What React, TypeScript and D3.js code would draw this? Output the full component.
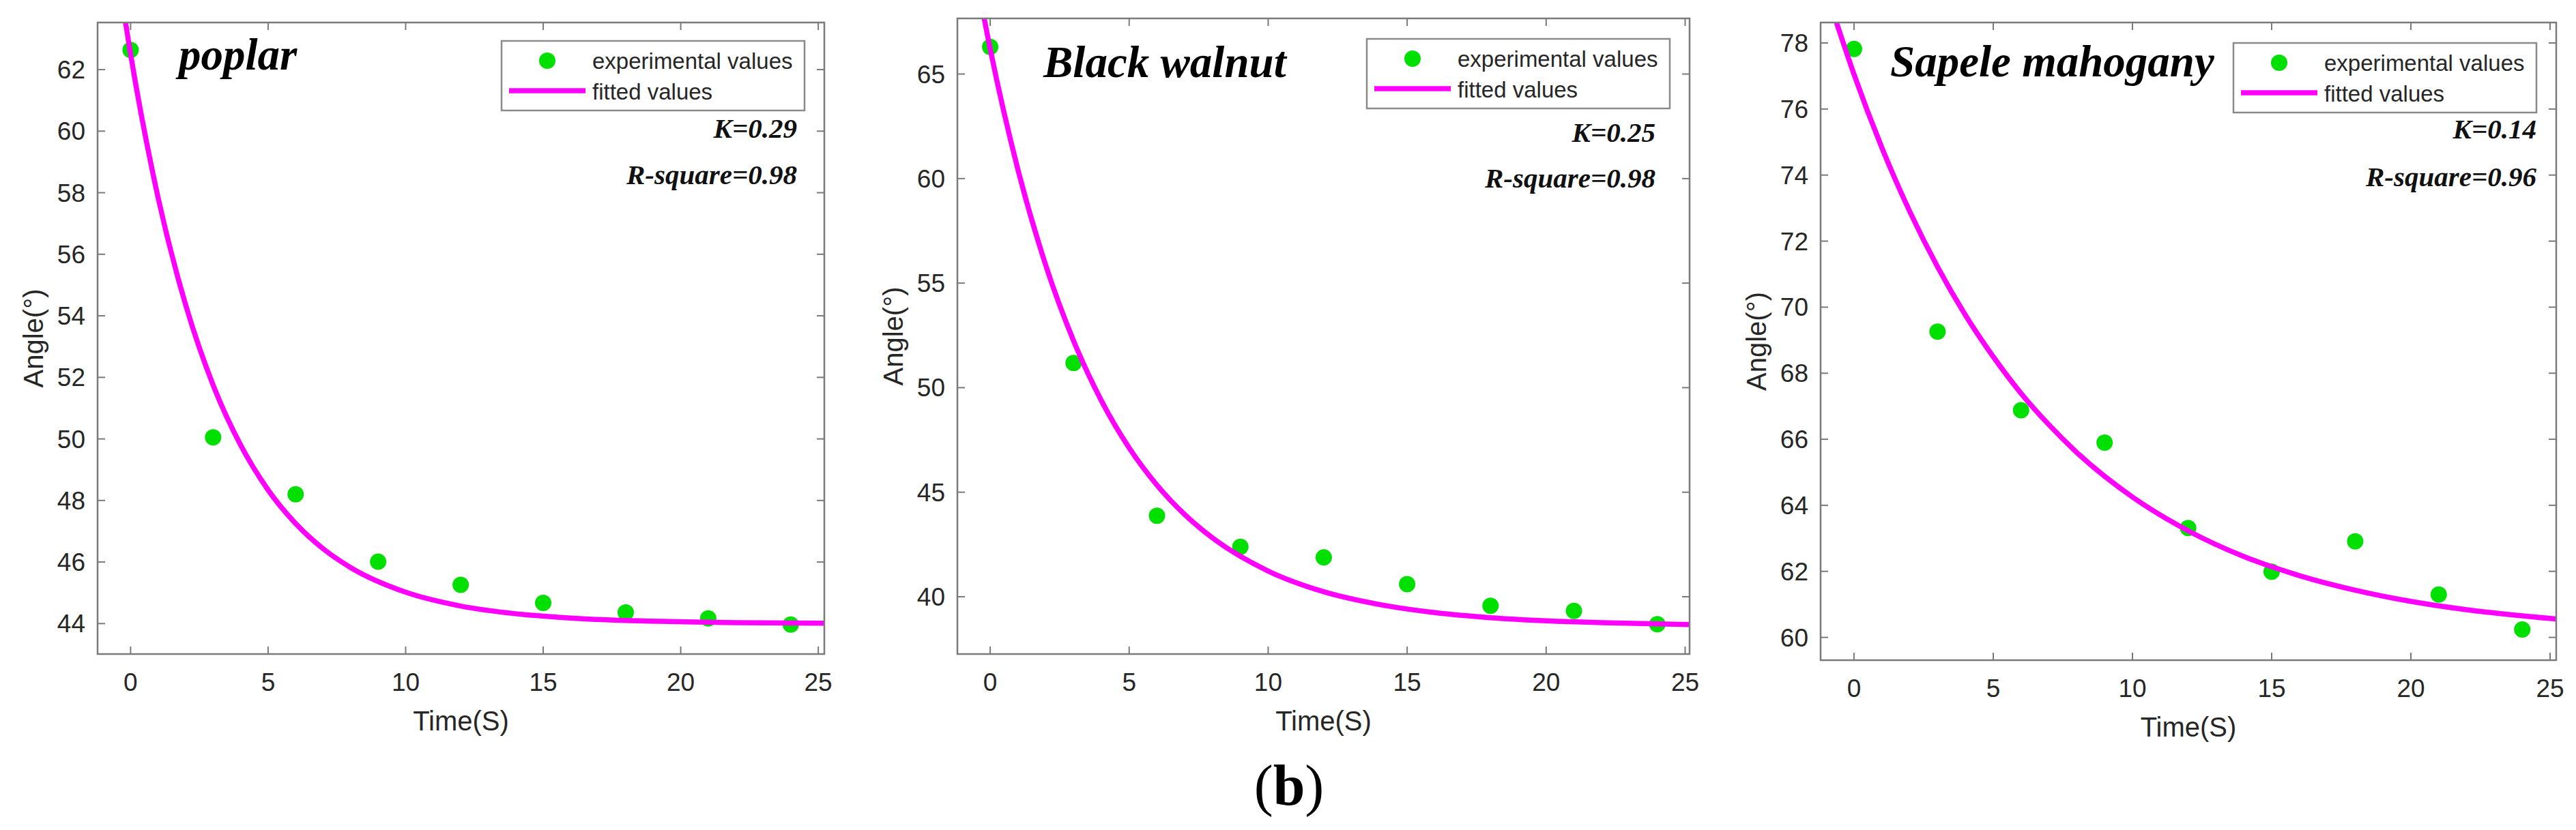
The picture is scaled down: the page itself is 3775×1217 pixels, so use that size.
import React, { useEffect } from 'react';
import * as d3 from 'd3';

// measured sample times (s)
const times = [0, 3, 6, 9, 12, 15, 18, 21, 24];
const poplarAngles = [62.64, 50.05, 48.2, 46.01, 45.26, 44.67, 44.36, 44.17, 43.97];
const walnutAngles = [66.3, 51.18, 43.87, 42.39, 41.88, 40.6, 39.57, 39.32, 38.69];
const mahoganyAngles = [77.82, 69.26, 66.88, 65.9, 63.31, 61.99, 62.91, 61.3, 60.24];

// fitted curves
const fitTimes = [-0.7, 0, 1, 2, 3, 4, 5, 6, 7, 8, 10, 12, 14, 16, 18, 20, 22, 25.2];
const poplarFit = [66.66, 62.5, 57.84, 54.36, 51.75, 49.8, 48.34, 47.25, 46.43, 45.82, 45.02, 44.57, 44.32, 44.18, 44.1, 44.06, 44.03, 44.01];
const walnutFit = [71.13, 66.2, 60.42, 55.85, 52.24, 49.38, 47.12, 45.34, 43.93, 42.81, 41.23, 40.24, 39.63, 39.24, 39.0, 38.85, 38.76, 38.67];
const mahoganyFit = [78.8, 77.05, 74.83, 72.9, 71.22, 69.76, 68.5, 67.39, 66.44, 65.6, 64.25, 63.23, 62.45, 61.87, 61.43, 61.09, 60.84, 60.56];

const species = ['poplar', 'Black walnut', 'Sapele mahogany'];
const kValues = ['0.29', '0.25', '0.14'];
const rSquares = ['0.98', '0.98', '0.96'];
const xTicks = [0, 5, 10, 15, 20, 25];
const yTicksList = [
  [44, 46, 48, 50, 52, 54, 56, 58, 60, 62],
  [40, 45, 50, 55, 60, 65],
  [60, 62, 64, 66, 68, 70, 72, 74, 76, 78],
];

const GREEN = '#00e000';
const MAGENTA = '#ff00ff';
const AXIS = '#7a7a7a';
const TEXT = '#262626';
const SANS = 'Arial, "Liberation Sans", sans-serif';
const SERIF = '"Times New Roman", "Liberation Serif", serif';

const layouts = [
  { left: 143, right: 1208, top: 33, bottom: 959, xDom: [-1.2, 25.22], yDom: [43.01, 63.53], titleX: 262, titleY: 102, legTop: 60, kInset: 40, kY: 202, rY: 270 },
  { left: 1403, right: 2476, top: 27, bottom: 959, xDom: [-1.18, 25.16], yDom: [37.26, 67.66], titleX: 1529, titleY: 113, legTop: 57, kInset: 50, kY: 208, rY: 275 },
  { left: 2668, right: 3746, top: 33, bottom: 968, xDom: [-1.2, 25.22], yDom: [59.31, 78.62], titleX: 2770, titleY: 112, legTop: 63, kInset: 29, kY: 203, rY: 273 },
];

const allAngles = [poplarAngles, walnutAngles, mahoganyAngles];
const allFits = [poplarFit, walnutFit, mahoganyFit];

const Panel = ({ i }: { i: number }) => {
  const L = layouts[i];
  const x = d3.scaleLinear().domain(L.xDom).range([L.left, L.right]);
  const y = d3.scaleLinear().domain(L.yDom).range([L.bottom, L.top]);
  const line = d3.line<[number, number]>()
    .x(d => x(d[0]))
    .y(d => y(d[1]))
    .curve(d3.curveMonotoneX);
  const fitPts: [number, number][] = fitTimes.map((t, j) => [t, allFits[i][j]]);
  const tickLen = 11;
  const legRight = L.right - 29;
  const legLeft = legRight - 444;
  const clipId = `clip${i}`;

  return (
    <g>
      <defs>
        <clipPath id={clipId}>
          <rect x={L.left} y={L.top} width={L.right - L.left} height={L.bottom - L.top} />
        </clipPath>
      </defs>

      {/* ticks on all four sides, pointing inward */}
      <g stroke={AXIS} strokeWidth={2}>
        {xTicks.map(t => (
          <g key={'xt' + t}>
            <line x1={x(t)} x2={x(t)} y1={L.bottom} y2={L.bottom - tickLen} />
            <line x1={x(t)} x2={x(t)} y1={L.top} y2={L.top + tickLen} />
          </g>
        ))}
        {yTicksList[i].map(v => (
          <g key={'yt' + v}>
            <line x1={L.left} x2={L.left + tickLen} y1={y(v)} y2={y(v)} />
            <line x1={L.right} x2={L.right - tickLen} y1={y(v)} y2={y(v)} />
          </g>
        ))}
      </g>

      <g fontFamily={SANS} fontSize={37} fill={TEXT}>
        {xTicks.map(t => (
          <text key={'xl' + t} x={x(t)} y={L.bottom + 54} textAnchor="middle">{t}</text>
        ))}
        {yTicksList[i].map(v => (
          <text key={'yl' + v} x={L.left - 18} y={y(v) + 13} textAnchor="end">{v}</text>
        ))}
      </g>

      <text x={(L.left + L.right) / 2} y={L.bottom + 112} textAnchor="middle"
        fontFamily={SANS} fontSize={40} fill={TEXT}>Time(S)</text>
      <text transform={`translate(${L.left - 80},${(L.top + L.bottom) / 2}) rotate(-90)`}
        textAnchor="middle" fontFamily={SANS} fontSize={40} fill={TEXT}>Angle(°)</text>

      <g clipPath={`url(#${clipId})`}>
        {times.map((t, j) => (
          <circle key={'p' + t} cx={x(t)} cy={y(allAngles[i][j])} r={12} fill={GREEN} />
        ))}
        <path d={line(fitPts) || ''} fill="none" stroke={MAGENTA} strokeWidth={7.5} />
      </g>

      <rect x={L.left} y={L.top} width={L.right - L.left} height={L.bottom - L.top}
        fill="none" stroke={AXIS} strokeWidth={2.5} />

      <text x={L.titleX} y={L.titleY} fontFamily={SERIF} fontStyle="italic" fontWeight="bold"
        fontSize={65} fill="#000">{species[i]}</text>

      {/* legend */}
      <rect x={legLeft} y={L.legTop} width={444} height={102} fill="#fff" stroke="#8a8a8a" strokeWidth={2.5} />
      <circle cx={legLeft + 67} cy={L.legTop + 29} r={12} fill={GREEN} />
      <line x1={legLeft + 11} x2={legLeft + 123} y1={L.legTop + 73} y2={L.legTop + 73}
        stroke={MAGENTA} strokeWidth={7.5} />
      <g fontFamily={SANS} fontSize={33} fill={TEXT}>
        <text x={legLeft + 133} y={L.legTop + 41}>experimental values</text>
        <text x={legLeft + 133} y={L.legTop + 86}>fitted values</text>
      </g>

      <g fontFamily={SERIF} fontStyle="italic" fontWeight="bold" fontSize={41} fill="#111" textAnchor="end">
        <text x={L.right - L.kInset} y={L.kY}>K={kValues[i]}</text>
        <text x={L.right - L.kInset} y={L.rY}>R-square={rSquares[i]}</text>
      </g>
    </g>
  );
};

const App = () => {
  useEffect(() => {
    document.body.style.margin = '0';
    document.body.style.overflow = 'hidden';
  }, []);

  return (
    <svg width={3775} height={1217} style={{ display: 'block', background: '#fff' }}>
      <rect width={3775} height={1217} fill="#fff" />
      {species.map((_, i) => <Panel key={i} i={i} />)}
      <text x={1889} y={1180} textAnchor="middle" fontFamily={SERIF} fontSize={84} fill="#000">
        (<tspan fontWeight="bold">b</tspan>)
      </text>
    </svg>
  );
};

export default App;
